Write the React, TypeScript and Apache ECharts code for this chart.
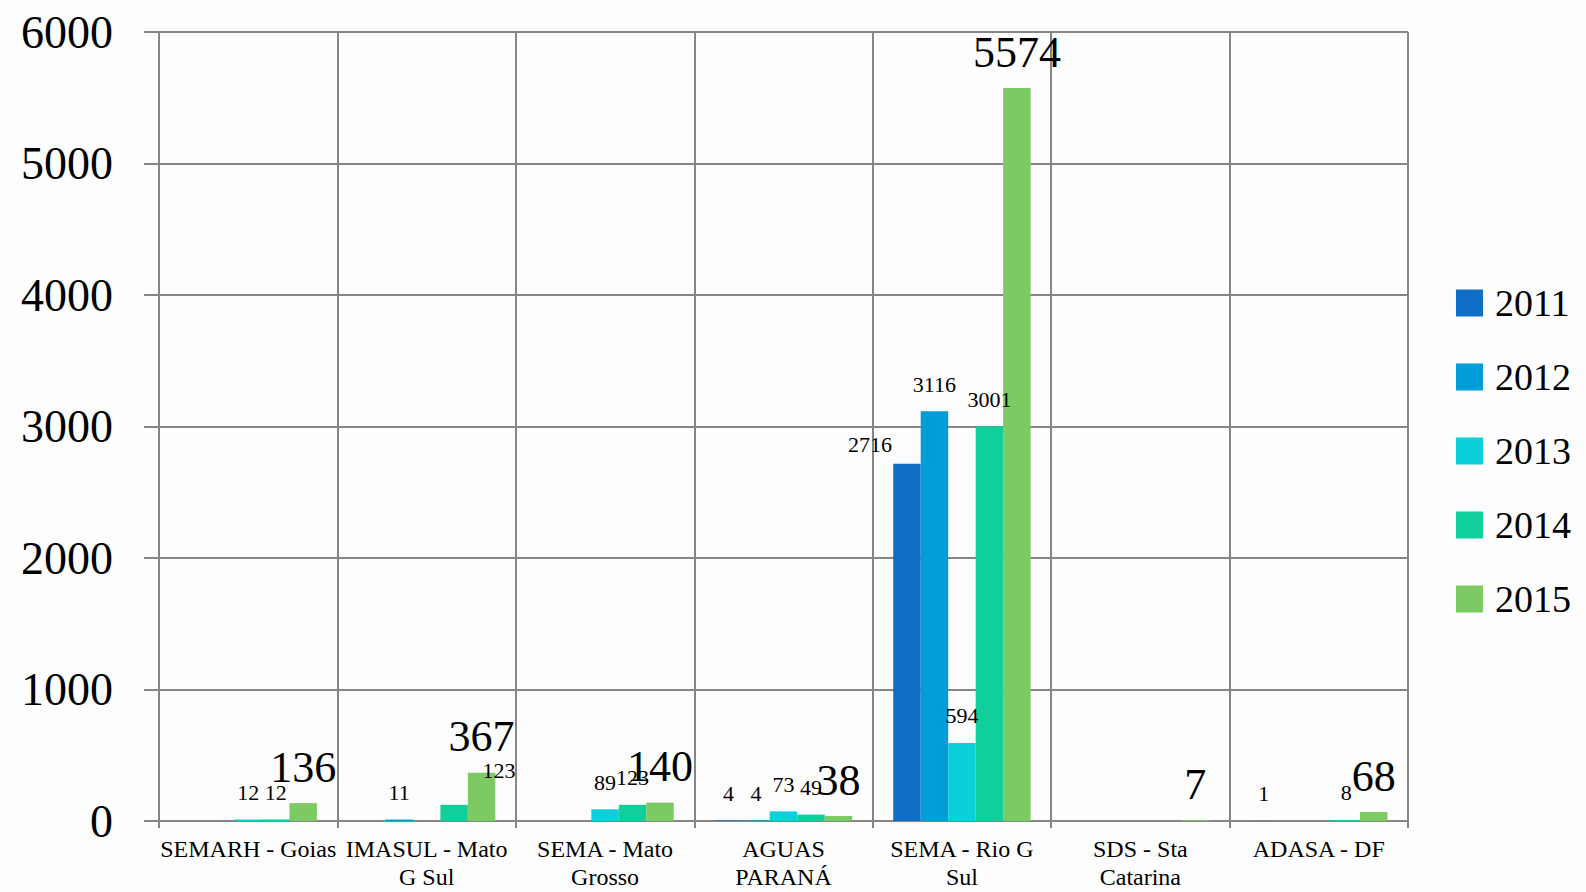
import React, { useEffect, useRef } from "react";
import * as echarts from "echarts";

const categories = [
  "SEMARH - Goias",
  "IMASUL - Mato G Sul",
  "SEMA - Mato Grosso",
  "AGUAS PARANÁ",
  "SEMA - Rio G Sul",
  "SDS - Sta Catarina",
  "ADASA - DF",
];
const wrapped: Record<string, string> = {
  "IMASUL - Mato G Sul": "IMASUL - Mato\nG Sul",
  "SEMA - Mato Grosso": "SEMA - Mato\nGrosso",
  "AGUAS PARANÁ": "AGUAS\nPARANÁ",
  "SEMA - Rio G Sul": "SEMA - Rio G\nSul",
  "SDS - Sta Catarina": "SDS - Sta\nCatarina",
};
const years = ["2011", "2012", "2013", "2014", "2015"];
const v2011 = [null, null, null, 4, 2716, null, 1];
const v2012 = [null, 11, null, 4, 3116, null, null];
const v2013 = [12, null, 89, 73, 594, null, null];
const v2014 = [12, 123, 123, 49, 3001, null, 8];
const v2015 = [136, 367, 140, 38, 5574, 7, 68];
const seriesValues = [v2011, v2012, v2013, v2014, v2015];
const colors = ["#0F6FC6", "#009DD9", "#0BD0D9", "#10CF9B", "#7CCA62"];
const yTicks = { min: 0, max: 6000, interval: 1000 };

const FONT = "Liberation Serif";

export default function App() {
  const ref = useRef<HTMLDivElement>(null);
  useEffect(() => {
    if (!ref.current) return;
    const chart = echarts.init(ref.current, undefined, { renderer: "svg" });
    const labelOffsets: Record<string, [number, number]> = {
      "0-4": [-37, 8],
      "3-1": [45, -7],
    };
    const series = years.map((y, si) => ({
      name: y,
      type: "bar",
      barGap: "0%",
      barCategoryGap: "23%",
      itemStyle: { color: colors[si] },
      label: {
        show: true,
        position: "top",
        distance: si === 4 ? 14 : 16,
        fontFamily: FONT,
        fontSize: si === 4 ? 44 : 22,
        color: "#000",
      },
      data: seriesValues[si].map((v, ci) => {
        const off = labelOffsets[`${si}-${ci}`];
        return off ? { value: v, label: { offset: off } } : v;
      }),
    }));
    chart.setOption({
      animation: false,
      backgroundColor: "#fdfdfd",
      textStyle: { fontFamily: FONT },
      grid: { left: 159, right: 178, top: 32, bottom: 71, containLabel: false },
      legend: {
        orient: "vertical",
        left: 1451,
        top: 279,
        itemWidth: 27,
        itemHeight: 27,
        itemGap: 36,
        icon: "rect",
        data: years,
        textStyle: {
          fontFamily: FONT,
          fontSize: 38,
          lineHeight: 27,
          color: "#000",
          padding: [0, 0, 0, 7],
        },
      },
      xAxis: {
        type: "category",
        data: categories,
        axisLine: { lineStyle: { color: "#868686", width: 2 } },
        axisTick: { show: true, length: 7, interval: 0, lineStyle: { color: "#868686", width: 2 } },
        splitLine: { show: true, interval: 0, lineStyle: { color: "#868686", width: 2 } },
        axisLabel: {
          interval: 0,
          margin: 14,
          fontFamily: FONT,
          fontSize: 24,
          lineHeight: 28,
          color: "#000",
          formatter: (s: string) => wrapped[s] || s,
        },
      },
      yAxis: {
        type: "value",
        min: yTicks.min,
        max: yTicks.max,
        interval: yTicks.interval,
        axisLine: { show: true, lineStyle: { color: "#868686", width: 2 } },
        axisTick: { show: true, length: 15, lineStyle: { color: "#868686", width: 2 } },
        splitLine: { show: true, lineStyle: { color: "#868686", width: 2 } },
        axisLabel: {
          margin: 46,
          fontFamily: FONT,
          fontSize: 46,
          color: "#000",
          formatter: (v: number) => String(v),
        },
      },
      series,
    });
    return () => chart.dispose();
  }, []);
  return (
    <div
      ref={ref}
      style={{ position: "fixed", left: 0, top: 0, width: 1586, height: 892 }}
    />
  );
}
